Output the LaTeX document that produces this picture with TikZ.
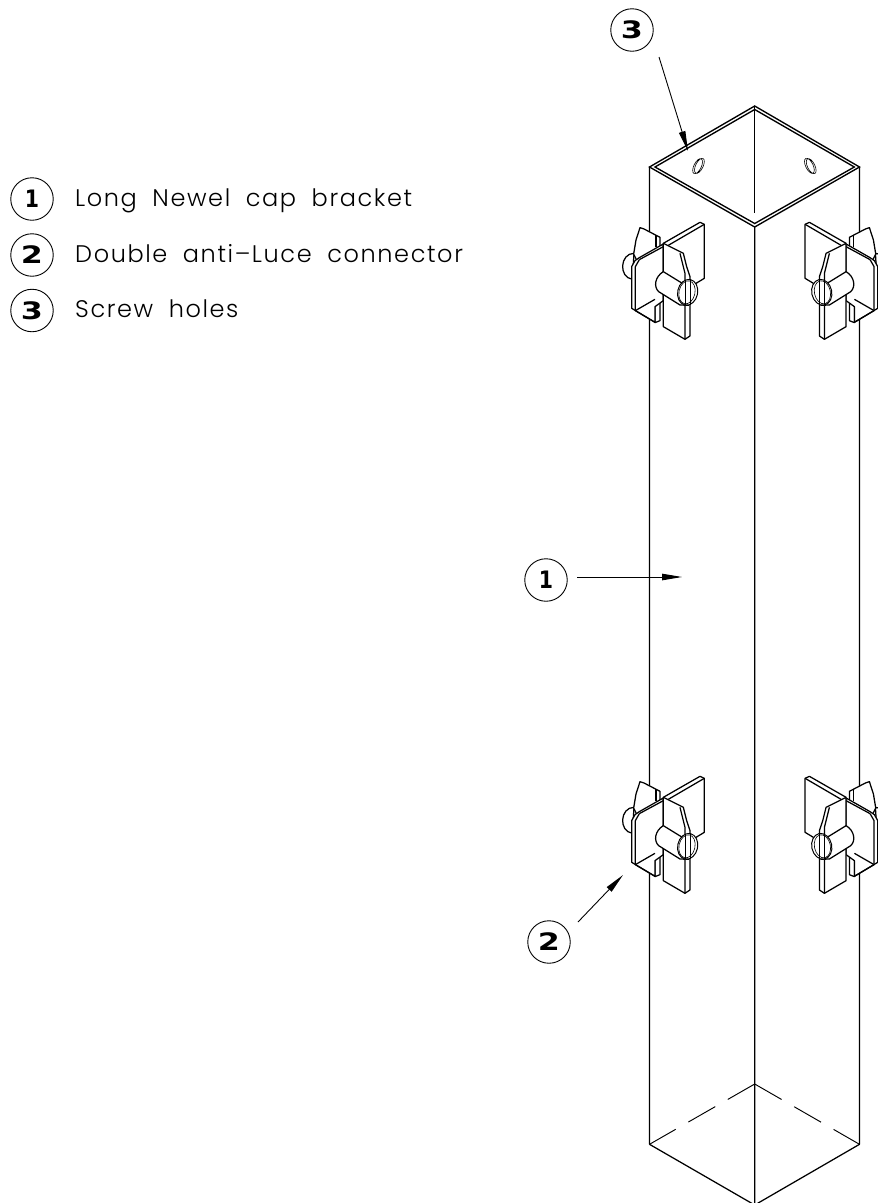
\documentclass[tikz,border=0pt]{standalone}
\usepackage{fontspec}
\usetikzlibrary{arrows.meta}
\setmainfont{DejaVu Sans}
\newfontfamily\labfont[UprightFont=* Light,LetterSpace=6.7,WordSpace=1.9]{Poppins}
\newfontfamily\numfont{DejaVu Sans Bold}
\newcommand{\callnum}[2][1.32]{\scalebox{#1}[1]{\fontsize{24}{24}\selectfont\numfont #2}}
\tikzset{
  call/.style={draw=black,line width=.9pt,circle,minimum size=42.5pt,inner sep=0pt,text=black},
  legend/.style={anchor=base west,inner sep=0pt,font=\labfont\fontsize{24}{24}\selectfont},
  ptr/.style={line width=.9pt,-{Triangle[length=20pt,width=6.5pt]}},
  post/.style={line width=1.25pt},
  rim/.style={line width=1.35pt,line join=miter},
  hid/.style={line width=.95pt,dash pattern=on 31pt off 14.5pt},
  brk/.style={line width=1.25pt,fill=white,line join=round},
  thin/.style={line width=.6pt}
}
\newcommand{\bracket}[1]{%
\begin{scope}[#1]
  % rear upright plate
  \path[fill=white] (190,462)--(300,397)--(313,403)--(313,565)--(270,590)--(190,600)--cycle;
  \draw[brk,fill=none] (190,460)--(300,397)--(313,403)--(313,565)--(285,582);
  \draw[brk,fill=none] (205,466)--(313,403);
  % far pin
  \draw[brk] (102,490) .. controls (60,490) and (55,562) .. (97,568)--cycle;
  % far ear
  \draw[brk] (101,492)--(108,450)--(120,413)--(132,417)--(180,442)--(180,500)--(110,510)--cycle;
  \draw[brk,fill=none] (168,436)--(168,470);
  % lower tab
  \draw[brk] (165,640)--(180,635)--(180,692)--(165,698)--cycle;
  % left plate
  \draw[brk] (190,462)--(118,503)--(105,512)--(95,530)--(95,655)--(165,697)--(165,650)--(190,632)--cycle;
  \draw[brk,fill=none] (118,509)--(190,470);
  \draw[brk,fill=none] (118,509)--(106,530)--(106,662)--(165,697);
  \draw[brk,fill=none] (106,662)--(165,628);
  % front plate
  \draw[brk] (190,460)--(250,490)--(260,530)--(270,560)--(270,738)--(255,748)--(190,710)--cycle;
  \draw[brk,fill=none] (240,490)--(255,550)--(255,748);
  % cylinder
  \draw[brk] (190,545)--(255,585)--(265,646)--(240,645)--(176,605) .. controls (160,590) and (165,560) .. (190,545);
  \draw[line width=1pt,fill=white] (263,607) ellipse[x radius=30,y radius=39,rotate=-12];
  \draw[thin] (255,569)--(255,645) (270,569)--(270,645);
  \draw[thin,fill=none] (261,607) ellipse[x radius=24,y radius=35,rotate=-12];
\end{scope}}
\begin{document}
\begin{tikzpicture}[x=1pt,y=-1pt]
\useasboundingbox (0,0) rectangle (878,1203);
\clip (0,0) rectangle (878,1203);
% post
\coordinate (tl) at (649.5,167);
\coordinate (tb) at (754.7,106);
\coordinate (tr) at (859.5,167);
\coordinate (tf) at (754.7,227);
\coordinate (il) at (655,167);
\coordinate (ib) at (754.7,109.5);
\coordinate (ir) at (854.3,167);
\coordinate (if) at (754.7,223.5);
\coordinate (bl) at (649.5,1144.3);
\coordinate (bb) at (754.7,1084);
\coordinate (br) at (859.5,1144.3);
\coordinate (bf) at (754.7,1205);
\coordinate (ie) at (754.7,212.7);
\draw[post] (tl)--(bl) (tr)--(br) (tf)--(bf) (bl)--(bf)--(br);
\draw[rim] (tl)--(tb)--(tr)--(tf)--cycle (il)--(ib)--(ir)--(if)--cycle;
\draw[post] (tb)--(ie);
\draw[hid] (bb)--(bl);
\draw[hid] (bb)--(br);
% screw holes
\draw[thin] (697.6,166.2) ellipse[x radius=3.7,y radius=8.2,rotate=-26] (699.4,165.8) ellipse[x radius=3.7,y radius=8.2,rotate=-26];
\draw[thin] (811.2,166.2) ellipse[x radius=3.7,y radius=8.2,rotate=26] (809.4,165.8) ellipse[x radius=3.7,y radius=8.2,rotate=26];
% connectors
\bracket{shift={(600,90)},xscale=.3333,yscale=.3333}
\bracket{shift={(909.4,90)},xscale=-.3333,yscale=.3333}
\bracket{shift={(600,644)},xscale=.3333,yscale=.3333}
\bracket{shift={(909.4,644)},xscale=-.3333,yscale=.3333}
% legend
\node[call] (k1) at (32,199) {\callnum[.85]{1}};
\node[call] (k2) at (32,255) {\callnum{2}};
\node[call] (k3) at (32,310.5) {\callnum{3}};
\node[legend] (t1) at (75,206) {Long Newel cap bracket};
\node[legend] (t2) at (75,262) {Double anti–Luce connector};
\node[legend] (t3) at (75,317) {Screw holes};
% callouts
\node[call] (c3) at (632,30) {\callnum{3}};
\node[call] (c1) at (546,580) {\callnum[.85]{1}};
\node[call] (c2) at (549,942) {\callnum{2}};
\coordinate (s3) at (659,57);
\coordinate (e3) at (688,151);
\coordinate (s1) at (577,577);
\coordinate (e1) at (682,577);
\coordinate (s2) at (578,922);
\coordinate (e2) at (623,875);
\draw[ptr] (s3)--(e3);
\draw[ptr] (s1)--(e1);
\draw[ptr] (s2)--(e2);
\end{tikzpicture}
\end{document}
